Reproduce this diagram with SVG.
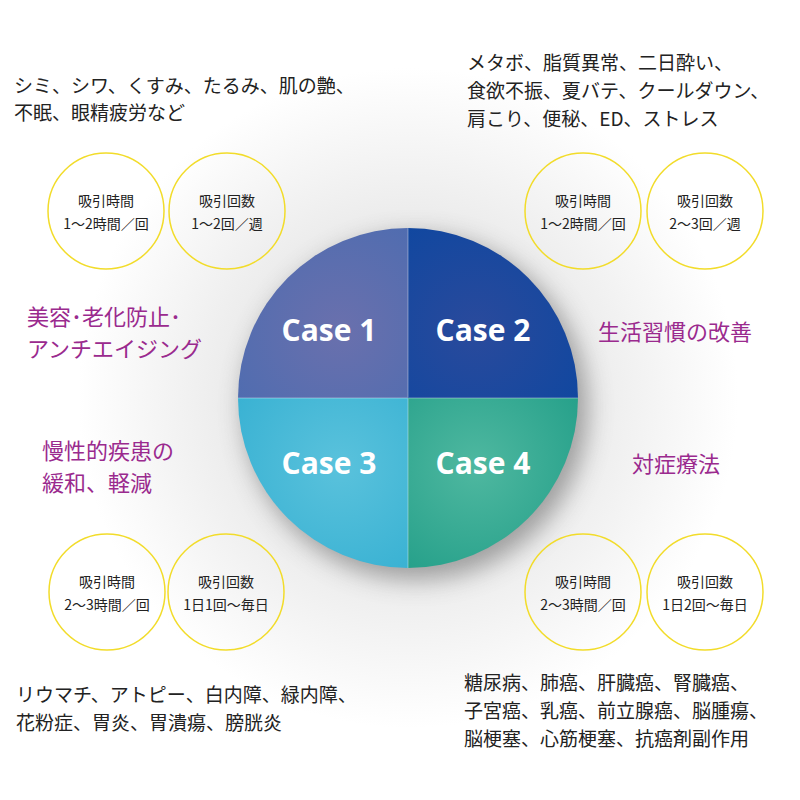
<svg xmlns="http://www.w3.org/2000/svg" width="800" height="800" viewBox="0 0 800 800">
<defs>
<radialGradient id="bg" cx="408" cy="398" r="330" gradientUnits="userSpaceOnUse">
<stop offset="0" stop-color="#c8c8c8"/><stop offset="0.55" stop-color="#ececec"/><stop offset="1" stop-color="#ffffff"/>
</radialGradient>
<radialGradient id="g1" cx="0.6" cy="0.6" r="0.8"><stop offset="0" stop-color="#6a70ad"/><stop offset="1" stop-color="#4d6cb0"/></radialGradient>
<radialGradient id="g2" cx="0.4" cy="0.6" r="0.8"><stop offset="0" stop-color="#2a4a9c"/><stop offset="1" stop-color="#0e47a0"/></radialGradient>
<radialGradient id="g3" cx="0.6" cy="0.4" r="0.8"><stop offset="0" stop-color="#5ac2dc"/><stop offset="1" stop-color="#36b0d2"/></radialGradient>
<radialGradient id="g4" cx="0.4" cy="0.4" r="0.8"><stop offset="0" stop-color="#4fb8a0"/><stop offset="1" stop-color="#229e88"/></radialGradient>
<filter id="sh" x="-30%" y="-30%" width="160%" height="160%"><feGaussianBlur stdDeviation="12"/></filter>
</defs>
<style>
.t{font-family:"Noto Sans CJK JP","Noto Sans",sans-serif;font-size:19px;fill:#222}
.s{font-family:"Noto Sans CJK JP","Noto Sans",sans-serif;font-size:14px;fill:#222;text-anchor:middle}
.p{font-family:"Noto Sans CJK JP","Noto Sans",sans-serif;font-size:22px;fill:#9a2a8e}
.c{font-family:"Open Sans","Noto Sans",sans-serif;font-weight:bold;font-size:30px;fill:#fff;text-anchor:middle}
.r{fill:none;stroke:#f2dc2a;stroke-width:1.5}
</style>
<rect width="800" height="800" fill="url(#bg)"/>
<circle cx="416" cy="408" r="172" fill="#555" opacity="0.5" filter="url(#sh)"/>
<g id="pie">
<path d="M408 398 H238 A170 170 0 0 1 408 228 Z" fill="url(#g1)"/>
<path d="M408 398 V228 A170 170 0 0 1 578 398 Z" fill="url(#g2)"/>
<path d="M408 398 H238 A170 170 0 0 0 408 568 Z" fill="url(#g3)"/>
<path d="M408 398 V568 A170 170 0 0 0 578 398 Z" fill="url(#g4)"/>
<path d="M238 398 H578 M408 228 V568" stroke="#ffffff" stroke-opacity="0.25" stroke-width="1.5"/>
<text class="c" x="329" y="341">Case 1</text>
<text class="c" x="483" y="341">Case 2</text>
<text class="c" x="329" y="474">Case 3</text>
<text class="c" x="483" y="474">Case 4</text>
</g>
<g id="case1">
<text class="t" x="14" y="93">シミ、シワ、くすみ、たるみ、肌の艶、</text>
<text class="t" x="14" y="120">不眠、眼精疲労など</text>
<circle class="r" cx="106" cy="211" r="58"/><text class="s" x="106" y="206">吸引時間</text><text class="s" x="106" y="229">1〜2時間／回</text>
<circle class="r" cx="227" cy="211" r="58"/><text class="s" x="227" y="206">吸引回数</text><text class="s" x="227" y="229">1〜2回／週</text>
<text class="p" x="27" y="325">美容･老化防止･</text>
<text class="p" x="27" y="357">アンチエイジング</text>
</g>
<g id="case2">
<text class="t" x="467" y="70">メタボ、脂質異常、二日酔い、</text>
<text class="t" x="467" y="98">食欲不振、夏バテ、クールダウン、</text>
<text class="t" x="467" y="126">肩こり、便秘、ED、ストレス</text>
<circle class="r" cx="583" cy="211" r="58"/><text class="s" x="583" y="206">吸引時間</text><text class="s" x="583" y="229">1〜2時間／回</text>
<circle class="r" cx="705" cy="211" r="58"/><text class="s" x="705" y="206">吸引回数</text><text class="s" x="705" y="229">2〜3回／週</text>
<text class="p" x="598" y="340">生活習慣の改善</text>
</g>
<g id="case3">
<text class="p" x="42" y="459">慢性的疾患の</text>
<text class="p" x="42" y="491">緩和、軽減</text>
<circle class="r" cx="107" cy="592" r="58"/><text class="s" x="107" y="587">吸引時間</text><text class="s" x="107" y="610">2〜3時間／回</text>
<circle class="r" cx="226" cy="592" r="58"/><text class="s" x="226" y="587">吸引回数</text><text class="s" x="226" y="610">1日1回〜毎日</text>
<text class="t" x="16" y="702">リウマチ、アトピー、白内障、緑内障、</text>
<text class="t" x="16" y="730">花粉症、胃炎、胃潰瘍、膀胱炎</text>
</g>
<g id="case4">
<text class="p" x="632" y="472">対症療法</text>
<circle class="r" cx="583" cy="592" r="58"/><text class="s" x="583" y="587">吸引時間</text><text class="s" x="583" y="610">2〜3時間／回</text>
<circle class="r" cx="705" cy="592" r="58"/><text class="s" x="705" y="587">吸引回数</text><text class="s" x="705" y="610">1日2回〜毎日</text>
<text class="t" x="464" y="690">糖尿病、肺癌、肝臓癌、腎臓癌、</text>
<text class="t" x="464" y="718">子宮癌、乳癌、前立腺癌、脳腫瘍、</text>
<text class="t" x="464" y="746">脳梗塞、心筋梗塞、抗癌剤副作用</text>
</g>
<g id="connectors"/>
</svg>
